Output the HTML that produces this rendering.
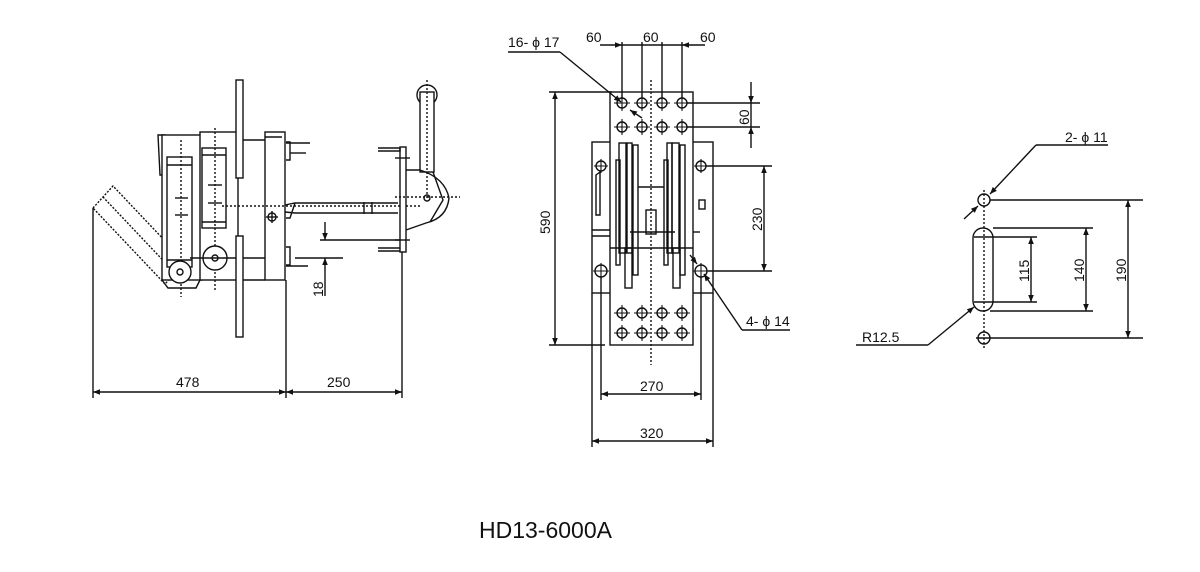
<!DOCTYPE html>
<html><head><meta charset="utf-8"><style>
html,body{margin:0;padding:0;background:#fff;}
svg{display:block;}
text{font-family:"Liberation Sans",Arial,sans-serif;fill:#111;}
</style></head><body>
<svg width="1200" height="572" viewBox="0 0 1200 572" xmlns="http://www.w3.org/2000/svg">
<defs>
<marker id="a" viewBox="0 0 10 10" refX="10" refY="5" markerWidth="10" markerHeight="7" orient="auto-start-reverse" markerUnits="userSpaceOnUse"><path d="M0,1 L10,5 L0,9 z" fill="#111"/></marker>
</defs>
<g stroke="#111" stroke-width="1.4" fill="none">
<path d="M93,208 L113,186 L185,262 L165,284 Z" stroke-dasharray="2,1.5"/>
<line x1="103" y1="197" x2="175" y2="273" stroke-dasharray="2,1.5"/>
<path d="M158,135 L165,135 L165,175 L160,175 Z"/>
<rect x="162" y="135" width="40" height="145" fill="#fff"/>
<path d="M162,280 L168,288 L196,288 L200,280"/>
<rect x="200" y="132" width="38" height="148" fill="#fff"/>
<rect x="167" y="157" width="25" height="110"/>
<line x1="167" y1="165" x2="192" y2="165"/><line x1="167" y1="260" x2="192" y2="260"/>
<rect x="202" y="148" width="24" height="80"/>
<line x1="202" y1="155" x2="226" y2="155"/><line x1="202" y1="222" x2="226" y2="222"/>
<line x1="238" y1="140" x2="265" y2="140"/><line x1="238" y1="280" x2="265" y2="280"/>
<line x1="181" y1="140" x2="181" y2="297" stroke-dasharray="2,2"/>
<line x1="215" y1="128" x2="215" y2="290" stroke-dasharray="2,2"/>
<line x1="175" y1="198" x2="188" y2="198"/><line x1="175" y1="215" x2="188" y2="215"/>
<line x1="208" y1="185" x2="222" y2="185"/><line x1="208" y1="203" x2="222" y2="203"/>
<circle cx="180" cy="272" r="11" fill="#fff"/><circle cx="180" cy="272" r="3"/>
<circle cx="215" cy="258" r="12" fill="#fff"/><circle cx="215" cy="258" r="3"/>
<line x1="190" y1="258" x2="268" y2="258"/>
<rect x="236" y="80" width="7" height="98" fill="#fff"/>
<rect x="236" y="236" width="7" height="101" fill="#fff"/>
<rect x="265" y="132" width="20" height="148" fill="#fff"/>
<line x1="265" y1="137" x2="282" y2="137"/>
<circle cx="272" cy="217" r="4"/><line x1="266" y1="217" x2="278" y2="217"/><line x1="272" y1="211" x2="272" y2="223"/>
<path d="M286,142 L290,142 L290,160 L286,160"/><line x1="286" y1="143" x2="310" y2="143"/><line x1="290" y1="153" x2="306" y2="153"/>
<path d="M286,247 L290,247 L290,265 L286,265"/><line x1="286" y1="266" x2="308" y2="266"/>
<path d="M285,205 L295,203 L398,203 M285,212 L295,213 L398,213 M295,203 L290,218 L286,218"/>
<line x1="222" y1="206" x2="420" y2="206" stroke-dasharray="2,2"/>
<line x1="364" y1="202" x2="364" y2="214"/><line x1="372" y1="202" x2="372" y2="214"/>
<rect x="400" y="147" width="6" height="105" fill="#fff"/>
<path d="M378,148 L400,148 M378,151 L400,151 L400,148"/>
<path d="M378,248 L400,248 M378,251 L400,251"/>
<line x1="395" y1="158" x2="410" y2="158"/><line x1="395" y1="240" x2="410" y2="240"/>
<circle cx="427" cy="95" r="10" fill="#fff"/>
<rect x="420" y="92" width="14" height="80" fill="#fff"/>
<line x1="427" y1="80" x2="427" y2="200" stroke-dasharray="2,2"/>
<path d="M406,170 L420,170 Q445,178 449,198 Q447,218 426,223 L406,230"/>
<path d="M433,172 L443,200 L430,222"/>
<circle cx="427" cy="198" r="3"/>
<line x1="395" y1="197" x2="460" y2="197" stroke-dasharray="2,2"/>
<line x1="320" y1="240" x2="400" y2="240"/>
<line x1="295" y1="258" x2="343" y2="258"/>
<line x1="325" y1="222" x2="325" y2="240" marker-end="url(#a)"/>
<line x1="325" y1="296" x2="325" y2="258" marker-end="url(#a)"/>
<line x1="93" y1="208" x2="93" y2="398"/>
<line x1="286" y1="280" x2="286" y2="398"/>
<line x1="402" y1="252" x2="402" y2="398"/>
<line x1="93" y1="392" x2="286" y2="392" marker-start="url(#a)" marker-end="url(#a)"/>
<line x1="286" y1="392" x2="402" y2="392" marker-start="url(#a)" marker-end="url(#a)"/>

<rect x="592" y="142" width="121" height="151" fill="#fff"/>
<rect x="610" y="92" width="83" height="253" fill="#fff"/>
<line x1="610" y1="248" x2="693" y2="248"/>
<g>
<rect x="619" y="143" width="7" height="110"/><rect x="627" y="143" width="5" height="110"/><rect x="633" y="145" width="5" height="130"/>
<rect x="616" y="160" width="4" height="105"/>
<rect x="672" y="143" width="7" height="110"/><rect x="667" y="143" width="5" height="110"/><rect x="680" y="145" width="5" height="130"/>
<rect x="664" y="160" width="4" height="105"/>
<rect x="625" y="248" width="7" height="40"/><rect x="673" y="248" width="7" height="40"/>
<rect x="646" y="210" width="10" height="24"/>
<line x1="630" y1="232" x2="675" y2="232"/>
<line x1="638" y1="187" x2="664" y2="187"/>
</g>
<path d="M596,175 L600,172 L600,215 L596,215 Z"/>
<rect x="699" y="200" width="6" height="9"/>
<line x1="592" y1="230" x2="610" y2="230"/><line x1="592" y1="236" x2="610" y2="236"/>
<line x1="693" y1="232" x2="700" y2="232"/>
<line x1="651" y1="80" x2="651" y2="365" stroke-dasharray="2,2"/>
<g>
<circle cx="622" cy="103" r="5"/><circle cx="642" cy="103" r="5"/><circle cx="662" cy="103" r="5"/><circle cx="682" cy="103" r="5"/>
<circle cx="622" cy="127" r="5"/><circle cx="642" cy="127" r="5"/><circle cx="662" cy="127" r="5"/><circle cx="682" cy="127" r="5"/>
<circle cx="622" cy="313" r="5"/><circle cx="642" cy="313" r="5"/><circle cx="662" cy="313" r="5"/><circle cx="682" cy="313" r="5"/>
<circle cx="622" cy="333" r="5"/><circle cx="642" cy="333" r="5"/><circle cx="662" cy="333" r="5"/><circle cx="682" cy="333" r="5"/>
<circle cx="601" cy="166" r="5"/><circle cx="701" cy="166" r="5"/><circle cx="601" cy="271" r="6"/><circle cx="701" cy="271" r="6"/>
</g>
<g stroke-width="1.1">
<path d="M614,103h16M622,95v16M634,103h16M642,95v16M654,103h16M662,95v16M674,103h16M682,95v16"/>
<path d="M614,127h16M622,119v16M634,127h16M642,119v16M654,127h16M662,119v16M674,127h16M682,119v16"/>
<path d="M614,313h16M622,305v16M634,313h16M642,305v16M654,313h16M662,305v16M674,313h16M682,305v16"/>
<path d="M614,333h16M622,325v16M634,333h16M642,325v16M654,333h16M662,325v16M674,333h16M682,325v16"/>
<path d="M594,166h14M601,159v14M694,166h14M701,159v14M593,271h16M601,263v16M693,271h16M701,263v16"/>
</g>
<line x1="622" y1="42" x2="622" y2="98"/><line x1="642" y1="42" x2="642" y2="98"/>
<line x1="662" y1="42" x2="662" y2="98"/><line x1="682" y1="42" x2="682" y2="98"/>
<line x1="600" y1="45" x2="622" y2="45" marker-end="url(#a)"/>
<line x1="622" y1="45" x2="682" y2="45"/>
<line x1="705" y1="45" x2="682" y2="45" marker-end="url(#a)"/>
<line x1="508" y1="52" x2="560" y2="52"/>
<line x1="560" y1="52" x2="621" y2="102" marker-end="url(#a)"/>
<line x1="642" y1="118" x2="630" y2="110" marker-end="url(#a)"/>
<line x1="549" y1="92" x2="612" y2="92"/><line x1="549" y1="345" x2="605" y2="345"/>
<line x1="555" y1="92" x2="555" y2="345" marker-start="url(#a)" marker-end="url(#a)"/>
<line x1="687" y1="103" x2="760" y2="103"/><line x1="687" y1="127" x2="760" y2="127"/>
<line x1="751" y1="82" x2="751" y2="103" marker-end="url(#a)"/>
<line x1="751" y1="148" x2="751" y2="127" marker-end="url(#a)"/>
<line x1="751" y1="103" x2="751" y2="127"/>
<line x1="706" y1="166" x2="772" y2="166"/><line x1="708" y1="271" x2="772" y2="271"/>
<line x1="764" y1="166" x2="764" y2="271" marker-start="url(#a)" marker-end="url(#a)"/>
<line x1="790" y1="330" x2="742" y2="330"/>
<line x1="742" y1="330" x2="704" y2="274" marker-end="url(#a)"/>
<line x1="690" y1="255" x2="697" y2="264" marker-end="url(#a)"/>
<line x1="601" y1="277" x2="601" y2="400"/><line x1="701" y1="277" x2="701" y2="400"/>
<line x1="592" y1="293" x2="592" y2="447"/><line x1="713" y1="293" x2="713" y2="447"/>
<line x1="601" y1="394" x2="701" y2="394" marker-start="url(#a)" marker-end="url(#a)"/>
<line x1="592" y1="441" x2="713" y2="441" marker-start="url(#a)" marker-end="url(#a)"/>

<line x1="984" y1="190" x2="984" y2="350" stroke-dasharray="2,2"/>
<circle cx="984" cy="200" r="6"/>
<circle cx="984" cy="338" r="6"/>
<rect x="973" y="228" width="20" height="83" rx="10" ry="10"/>
<line x1="990" y1="200" x2="1143" y2="200"/><line x1="976" y1="338" x2="1143" y2="338"/>
<line x1="1128" y1="200" x2="1128" y2="338" marker-start="url(#a)" marker-end="url(#a)"/>
<line x1="993" y1="228" x2="1093" y2="228"/><line x1="990" y1="311" x2="1093" y2="311"/>
<line x1="1086" y1="228" x2="1086" y2="311" marker-start="url(#a)" marker-end="url(#a)"/>
<line x1="974" y1="237" x2="1037" y2="237"/><line x1="974" y1="302" x2="1037" y2="302"/>
<line x1="1031" y1="237" x2="1031" y2="302" marker-start="url(#a)" marker-end="url(#a)"/>
<line x1="1108" y1="145" x2="1036" y2="145"/>
<line x1="1036" y1="145" x2="990" y2="194" marker-end="url(#a)"/>
<line x1="964" y1="219" x2="978" y2="206" marker-end="url(#a)"/>
<line x1="856" y1="345" x2="928" y2="345"/>
<line x1="928" y1="345" x2="974" y2="307" marker-end="url(#a)"/>
</g>
<g font-size="14">
<text x="176" y="387">478</text>
<text x="327" y="387">250</text>
<text x="0" y="0" transform="translate(323,297) rotate(-90)">18</text>
<text x="508" y="47">16- ϕ 17</text>
<text x="586" y="42">60</text>
<text x="643" y="42">60</text>
<text x="700" y="42">60</text>
<text x="0" y="0" transform="translate(550,234) rotate(-90)">590</text>
<text x="0" y="0" transform="translate(749,125) rotate(-90)">60</text>
<text x="0" y="0" transform="translate(762,231) rotate(-90)">230</text>
<text x="746" y="326">4- ϕ 14</text>
<text x="640" y="391">270</text>
<text x="640" y="438">320</text>
<text x="1065" y="142">2- ϕ 11</text>
<text x="0" y="0" transform="translate(1029,282) rotate(-90)">115</text>
<text x="0" y="0" transform="translate(1084,282) rotate(-90)">140</text>
<text x="0" y="0" transform="translate(1126,282) rotate(-90)">190</text>
<text x="862" y="342">R12.5</text>
</g>
<text x="479" y="538" font-size="23">HD13-6000A</text>
</svg>
</body></html>
